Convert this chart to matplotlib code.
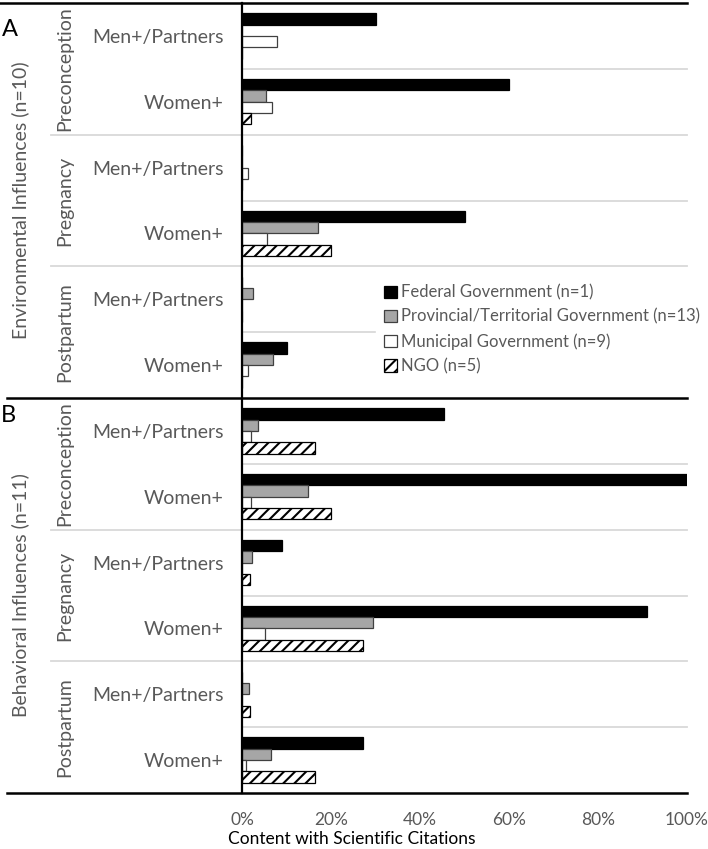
import matplotlib
matplotlib.use("Agg")
import matplotlib.pyplot as plt
import numpy as np
from matplotlib.patches import Patch
from matplotlib.transforms import blended_transform_factory

plt.rcParams['font.family'] = ['Lato', 'DejaVu Sans']
plt.rcParams['hatch.linewidth'] = 1.5

# categories, top to bottom
groups = ["Men+/Partners", "Women+"] * 6
stages = ["Preconception", "Pregnancy", "Postpartum"] * 2
panels = ["Environmental Influences (n=10)", "Behavioral Influences (n=11)"]
panel_tags = ["A", "B"]

series = ["Federal Government (n=1)", "Provincial/Territorial Government (n=13)",
          "Municipal Government (n=9)", "NGO (n=5)"]

# % of content with scientific citations
federal = [30.0, 60.0, 0.0, 50.0, 0.0, 10.0,
           45.5, 100.0, 9.1, 90.9, 0.0, 27.3]
provincial = [0.0, 5.5, 0.0, 17.0, 2.5, 7.0,
              3.6, 14.8, 2.2, 29.4, 1.5, 6.5]
municipal = [7.9, 6.8, 1.3, 5.6, 0.0, 1.3,
             2.1, 2.1, 0.0, 5.2, 0.0, 1.0]
ngo = [0.0, 2.1, 0.0, 20.0, 0.0, 0.0,
       16.5, 20.0, 1.9, 27.3, 1.9, 16.5]

W, H = 708, 849
fig = plt.figure(figsize=(W / 100, H / 100), dpi=100)
ax = fig.add_axes([242 / W, (H - 793) / H, (687 - 242) / W, (793 - 3) / H])

gray_txt = '#595959'
styles = [
    dict(color='black', edgecolor='black'),
    dict(color='#A6A6A6', edgecolor='#404040'),
    dict(color='white', edgecolor='#404040'),
    dict(color='white', edgecolor='black', hatch='///'),
]

y = np.arange(len(groups))
h = 0.172
data = [federal, provincial, municipal, ngo]
for k, (vals, st) in enumerate(zip(data, styles)):
    offs = (k - 1.5) * h
    ax.barh(y + offs, vals, height=h, linewidth=0.9, zorder=3, **st)

ax.set_xlim(0, 100)
ax.set_ylim(len(groups) - 0.5, -0.5)
ax.set_xticks([0, 20, 40, 60, 80, 100])
ax.set_xticklabels([f"{v}%" for v in [0, 20, 40, 60, 80, 100]],
                   color=gray_txt, fontsize=12.5)
ax.set_yticks(y)
ax.set_yticklabels(groups, color=gray_txt, fontsize=14)
ax.tick_params(axis='both', length=0)
ax.tick_params(axis='y', pad=13)
ax.tick_params(axis='x', pad=14)
for s in ['top', 'right', 'bottom']:
    ax.spines[s].set_visible(False)
ax.spines['left'].set_linewidth(1.6)
ax.spines['left'].set_zorder(4)

tr = blended_transform_factory(fig.transFigure, ax.transData)
x_end = 687 / W

# separators inside a stage
for yy in [0.5, 2.5, 4.5, 6.5, 8.5, 10.5]:
    ax.plot([242 / W, x_end], [yy, yy], transform=tr, color='#D9D9D9',
            lw=1.3, clip_on=False, zorder=1)
# separators between stages
for yy in [1.5, 3.5, 7.5, 9.5]:
    ax.plot([51 / W, x_end], [yy, yy], transform=tr, color='#D9D9D9',
            lw=1.3, clip_on=False, zorder=1)
# panel borders
ax.plot([0, x_end], [-0.5, -0.5], transform=tr, color='black', lw=1.8, clip_on=False, zorder=4)
ax.plot([7 / W, x_end], [5.5, 5.5], transform=tr, color='black', lw=1.8, clip_on=False, zorder=4)
ax.plot([7 / W, x_end], [11.5, 11.5], transform=tr, color='black', lw=1.8, clip_on=False, zorder=4)

# stage labels
for i, st in enumerate(stages):
    ax.text(65 / W, 2 * i + 0.5, st, transform=tr, rotation=90, ha='center',
            va='center', color=gray_txt, fontsize=14)
# panel labels
for i, p in enumerate(panels):
    ax.text(20 / W, 6 * i + 2.5, p, transform=tr, rotation=90, ha='center',
            va='center', color=gray_txt, fontsize=14)
fig.text(10 / W, 1 - 30 / H, panel_tags[0], ha='center', va='center', fontsize=17)
fig.text(8 / W, 1 - 416 / H, panel_tags[1], ha='center', va='center', fontsize=17)

fig.text(352 / W, 1 - 839 / H, "Content with Scientific Citations",
         ha='center', va='center', fontsize=12.5, color='black')

handles = [Patch(facecolor=st['color'], edgecolor=st['edgecolor'],
                 hatch=st.get('hatch'), linewidth=0.9) for st in styles]
leg = ax.legend(handles, series, loc='upper left',
                bbox_to_anchor=(376 / W, 1 - 276 / H), bbox_transform=fig.transFigure,
                frameon=True, fancybox=False, framealpha=1, edgecolor='white',
                facecolor='white', fontsize=12, handlelength=0.75, handleheight=0.75,
                handletextpad=0.25, labelspacing=0.5, borderpad=0.5, borderaxespad=0)
for t in leg.get_texts():
    t.set_color(gray_txt)

fig.savefig("out.png", dpi=100)
